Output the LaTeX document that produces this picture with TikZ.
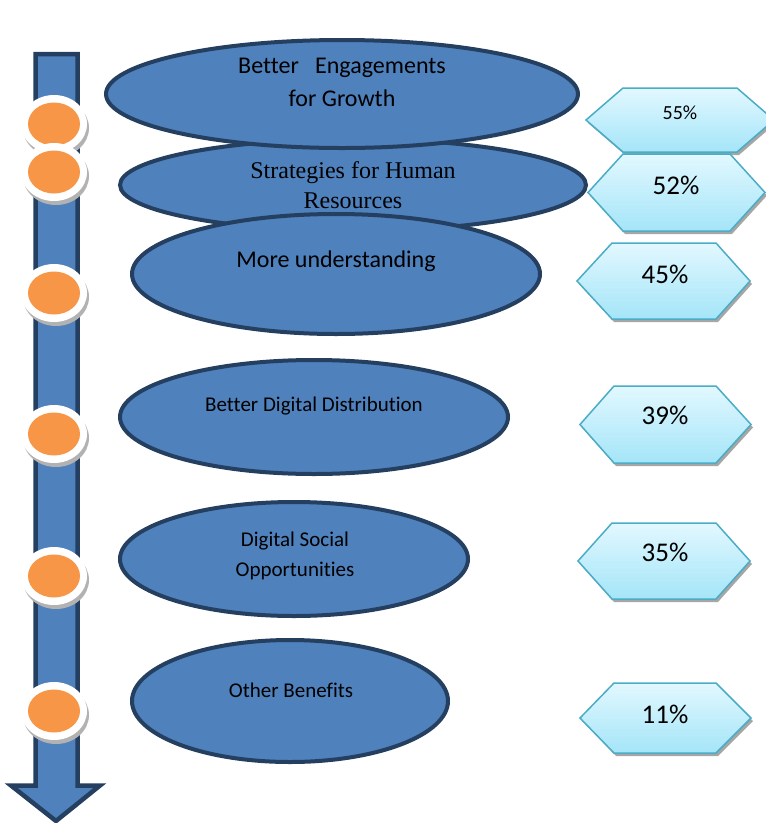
\documentclass[tikz,border=0pt]{standalone}
\usepackage{fontspec}
\setmainfont{Carlito}[Ligatures={NoCommon}]
\newfontfamily\timesf{Liberation Serif}
\usetikzlibrary{shapes.geometric}
\definecolor{bfill}{HTML}{4F81BD}
\definecolor{bline}{HTML}{243F60}
\definecolor{orng}{HTML}{F79646}
\definecolor{hline}{HTML}{4BACC6}
\definecolor{htop}{HTML}{E2F8FF}
\definecolor{hbot}{HTML}{A4E5F8}
\tikzset{
  oval/.style={ellipse, draw=bline, fill=bfill, line width=4pt, inner sep=0pt},
  lbl/.style={inner sep=0pt, align=center, text=black},
  hexa/.style={draw=hline, line width=1.5pt, top color=htop, bottom color=hbot},
  hexshadow/.style={fill=gray!70},
  dotring/.style={fill=white},
  dotshadow/.style={fill=gray!60},
  dotcore/.style={fill=orng},
  arrowbody/.style={fill=bfill, draw=bline, line width=4.5pt, line join=miter}
}
\begin{document}
\begin{tikzpicture}[x=1pt,y=-1pt]
\useasboundingbox (0,0) rectangle (766,823);
% arrow
\draw[arrowbody] (35.5,54) -- (77.5,54) -- (77.5,785.5) -- (100,785.5) -- (56,821) -- (11,785.5) -- (35.5,785.5) -- cycle;
% dots
\foreach \yy in {124,172,293,434,576,711}{
  \fill[dotshadow] (56,\yy+4) ellipse [x radius=33, y radius=29];
  \fill[dotring] (54,\yy) ellipse [x radius=33, y radius=29];
  \fill[dotcore] (54,\yy) ellipse [x radius=26, y radius=21.5];
}
% ovals
\node[oval, minimum width=466pt, minimum height=92pt] (e2) at (353,185) {};
\node[oval, minimum width=472pt, minimum height=108pt] (e1) at (342,94) {};
\node[oval, minimum width=408pt, minimum height=120pt] (e3) at (336,274) {};
\node[oval, minimum width=388pt, minimum height=114pt] (e4) at (314,417) {};
\node[oval, minimum width=348pt, minimum height=114pt] (e5) at (294,559) {};
\node[oval, minimum width=316pt, minimum height=122pt] (e6) at (290,701) {};
% oval texts
\node[lbl, font=\fontsize{24}{33}\selectfont] (t1) at (342,82) {Better\ \ \ Engagements\\for Growth};
\node[lbl, font=\timesf\fontsize{24}{30}\selectfont] (t2) at (353,185) {Strategies for Human\\Resources};
\node[lbl, font=\fontsize{24}{28}\selectfont] (t3) at (336,261) {More understanding};
\node[lbl, font=\fontsize{21}{24}\selectfont] (t4) at (314,406) {Better Digital Distribution};
\node[lbl, font=\fontsize{21}{30}\selectfont] (t5) at (295,556) {Digital Social\\Opportunities};
\node[lbl, font=\fontsize{21}{24}\selectfont] (t6) at (291,690) {Other Benefits};
% hexagons: shadow then body
\foreach \lx/\tlx/\trx/\rx/\ty/\by in {586/623/737/774/88/152, 588/623/730/765/154/231, 577/612/716/750/243/319, 580/614/716/751/386/463, 578/612/716/750/523/599, 580/614/716/751/683/753}{
  \fill[hexshadow] (\lx+2,{(\ty+\by)/2+3}) -- (\tlx+2,\ty+3) -- (\trx+2,\ty+3) -- (\rx+2,{(\ty+\by)/2+3}) -- (\trx+2,\by+3) -- (\tlx+2,\by+3) -- cycle;
  \draw[hexa] (\lx,{(\ty+\by)/2}) -- (\tlx,\ty) -- (\trx,\ty) -- (\rx,{(\ty+\by)/2}) -- (\trx,\by) -- (\tlx,\by) -- cycle;
}
\node[lbl, font=\fontsize{20}{24}\selectfont] (p1) at (680,113) {55\%};
\node[lbl, font=\fontsize{27}{30}\selectfont] (p2) at (676,185) {52\%};
\node[lbl, font=\fontsize{27}{30}\selectfont] (p3) at (665,274) {45\%};
\node[lbl, font=\fontsize{27}{30}\selectfont] (p4) at (665,415) {39\%};
\node[lbl, font=\fontsize{27}{30}\selectfont] (p5) at (665,552) {35\%};
\node[lbl, font=\fontsize{27}{30}\selectfont] (p6) at (665,714) {11\%};
\end{tikzpicture}
\end{document}
